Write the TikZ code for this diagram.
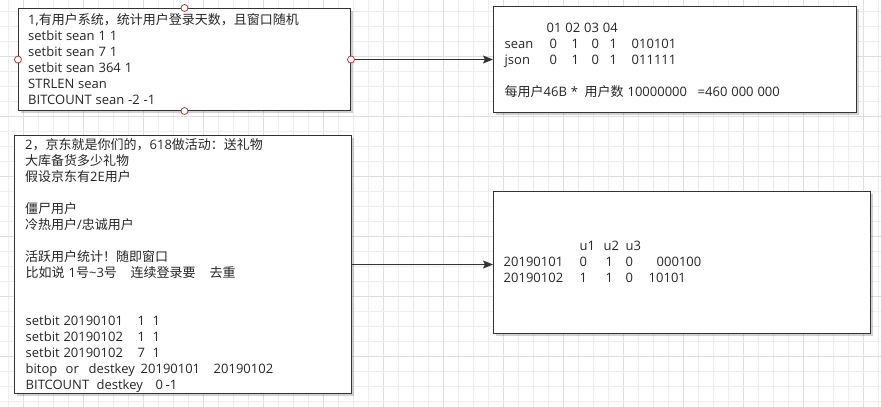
\documentclass[tikz,border=0pt]{standalone}
\usepackage{fontspec}
\setmainfont{Open Sans}[WordSpace=1.15]
\newfontfamily\cjkfont{Noto Sans CJK SC}
\usetikzlibrary{arrows.meta,shadows}
\definecolor{gridminor}{HTML}{EDEDED}
\definecolor{gridmajor}{HTML}{DEDEDE}
\definecolor{edge}{HTML}{333333}
\definecolor{handle}{HTML}{B03A3A}
\definecolor{ink}{HTML}{262626}
% place a token at a fixed offset from the start of its line
\newcommand\col[2]{\makebox[0pt][l]{\hspace*{#1pt}#2}}
% Chinese run
\newcommand\zh[1]{{\cjkfont #1}}
\tikzset{
  card/.style={draw=edge, line width=1pt, fill=white, anchor=north west,
    inner sep=0pt, drop shadow={shadow xshift=2pt, shadow yshift=-2pt, opacity=0.18, fill=black}},
  txt/.style={anchor=base west, inner sep=0pt, text=ink, font=\fontsize{13}{16}\selectfont},
  handlept/.style={circle, draw=handle, fill=white, line width=0.8pt, minimum size=7pt, inner sep=0pt},
  link/.style={draw=edge, line width=1pt, -{Stealth[length=10pt,width=8pt,inset=2pt]}}
}
\begin{document}
\begin{tikzpicture}[x=1pt,y=-1pt]
\useasboundingbox (0,0) rectangle (881,407);

% background grid
\begin{scope}
\clip (0,0) rectangle (881,407);
\foreach \i in {0,...,58} {
  \pgfmathtruncatemacro\m{mod(\i,4)}
  \ifnum\m=1 \def\gc{gridmajor}\else\def\gc{gridminor}\fi
  \draw[\gc, line width=1pt] ({8+15*\i},0) -- ({8+15*\i},407);
}
\foreach \j in {0,...,27} {
  \pgfmathtruncatemacro\m{mod(\j,4)}
  \ifnum\m=3 \def\gc{gridmajor}\else\def\gc{gridminor}\fi
  \draw[\gc, line width=1pt] (0,{11+15*\j}) -- (881,{11+15*\j});
}
\end{scope}

% boxes
\node[card, minimum width=332pt, minimum height=102pt] (box1) at (18,8) {};
\node[card, minimum width=363pt, minimum height=106pt] (box2) at (493,6) {};
\node[card, minimum width=337pt, minimum height=258pt] (box3) at (14,135) {};
\node[card, minimum width=377pt, minimum height=142pt] (box4) at (493,191) {};

% connectors
\draw[link] (box1.east) -- (box1.east -| box2.west);
\draw[link] (box3.east) -- (box3.east -| box4.west);

% selection handles
\node[handlept] (h1) at (box1.north) {};
\node[handlept] (h2) at (box1.south) {};
\node[handlept] (h3) at (box1.west) {};
\node[handlept] (h4) at (box1.east) {};

% box 1 text
\node[txt] (a1) at (28,24) {1,\zh{有用户系统，统计用户登录天数，且窗口随机}};
\node[txt] (a2) at (28,40) {setbit sean 1 1};
\node[txt] (a3) at (28,56) {setbit sean 7 1};
\node[txt] (a4) at (28,72) {setbit sean 364 1};
\node[txt] (a5) at (28,88) {STRLEN sean};
\node[txt] (a6) at (28,104) {BITCOUNT sean -2 -1};

% box 2 text
\node[txt] (b1) at (504,32) {\col{42}{01 02 03 04}};
\node[txt] (b2) at (504,48) {\col{0}{sean}\col{45}{0}\col{67}{1}\col{87}{0}\col{105}{1}\col{127}{010101}};
\node[txt] (b3) at (504,64) {\col{0}{json}\col{45}{0}\col{67}{1}\col{87}{0}\col{105}{1}\col{127}{011111}};
\node[txt] (b4) at (504,96) {\col{0}{\zh{每用户}46B *}\col{80}{\zh{用户数} 10000000}\col{193}{=460 000 000}};

% box 3 text
\node[txt] (c1) at (25,149) {2\zh{，京东就是你们的，}618\zh{做活动：送礼物}};
\node[txt] (c2) at (25,165) {\zh{大库备货多少礼物}};
\node[txt] (c3) at (25,181) {\zh{假设京东有}2E\zh{用户}};
\node[txt] (c4) at (25,213) {\zh{僵尸用户}};
\node[txt] (c5) at (25,229) {\zh{冷热用户}/\zh{忠诚用户}};
\node[txt] (c6) at (25,261) {\zh{活跃用户统计！随即窗口}};
\node[txt] (c7) at (25,277) {\col{0}{\zh{比如说}}\col{43}{1\zh{号}\textasciitilde3\zh{号}}\col{105}{\zh{连续登录要}}\col{184}{\zh{去重}}};
\node[txt] (c8) at (25,325) {\col{0}{setbit 20190101}\col{112}{1}\col{127}{1}};
\node[txt] (c9) at (25,341) {\col{0}{setbit 20190102}\col{112}{1}\col{127}{1}};
\node[txt] (c10) at (25,357) {\col{0}{setbit 20190102}\col{112}{7}\col{127}{1}};
\node[txt] (c11) at (25,373) {\col{0}{bitop}\col{40}{or}\col{63}{destkey}\col{115}{20190101}\col{188}{20190102}};
\node[txt] (c12) at (25,389) {\col{0}{BITCOUNT}\col{71}{destkey}\col{130}{0}\col{140}{-1}};

% box 4 text
\node[txt] (d1) at (503,250) {\col{76}{u1}\col{100}{u2}\col{122}{u3}};
\node[txt] (d2) at (503,266) {\col{0}{20190101}\col{76}{0}\col{102}{1}\col{122}{0}\col{153}{000100}};
\node[txt] (d3) at (503,282) {\col{0}{20190102}\col{76}{1}\col{102}{1}\col{122}{0}\col{145}{10101}};
\end{tikzpicture}
\end{document}
